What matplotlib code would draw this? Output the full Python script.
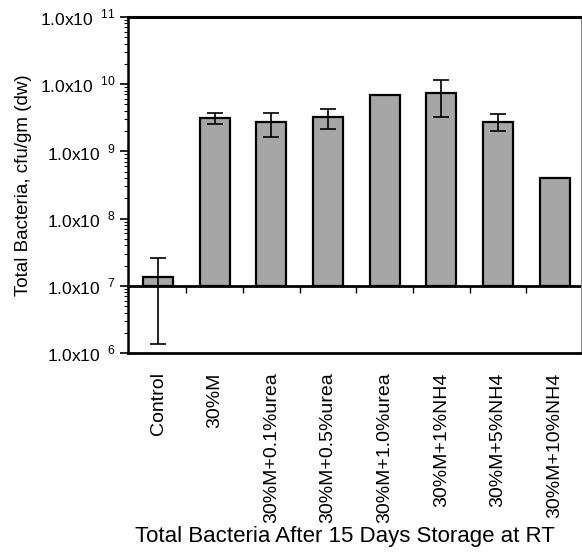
import matplotlib
matplotlib.use('Agg')
import matplotlib.pyplot as plt
import numpy as np
from matplotlib.ticker import LogLocator, FixedLocator, NullFormatter

plt.rcParams['font.family'] = ['Liberation Sans', 'DejaVu Sans']
plt.rcParams['mathtext.fontset'] = 'custom'
plt.rcParams['mathtext.rm'] = 'Liberation Sans'

# total bacteria after 15 days, cfu/gm (dw)
treatments = ['Control', '30%M', '30%M+0.1%urea', '30%M+0.5%urea',
              '30%M+1.0%urea', '30%M+1%NH4', '30%M+5%NH4', '30%M+10%NH4']
counts = [1.34e7, 3.08e9, 2.72e9, 3.26e9, 6.8e9, 7.45e9, 2.75e9, 3.96e8]
err_low = [1.37e6, 2.51e9, 1.65e9, 2.12e9, np.nan, 3.22e9, 2.0e9, np.nan]
err_high = [2.6e7, 3.73e9, 3.73e9, 4.28e9, np.nan, 1.16e10, 3.53e9, np.nan]
baseline = 1.0e7
ytick_exps = [6, 7, 8, 9, 10, 11]

fig = plt.figure(figsize=(5.82, 5.52), dpi=100)
ax = fig.add_axes([0.22, 0.3605, 0.778, 0.609])

x = np.arange(len(treatments))
heights = [c - baseline for c in counts]
ax.bar(x, heights, bottom=baseline, width=0.53, color='#a6a6a6',
       edgecolor='black', linewidth=1.6, zorder=2)

counts_arr = np.array(counts)
lo = counts_arr - np.array(err_low)
hi = np.array(err_high) - counts_arr
has_err = ~np.isnan(lo)
ax.errorbar(x[has_err], counts_arr[has_err], yerr=[lo[has_err], hi[has_err]],
            fmt='none', ecolor='black', elinewidth=1.2, capsize=6,
            capthick=1.2, zorder=3)

ax.set_yscale('log')
ax.set_ylim(1e6, 1e11)
ax.set_xlim(-0.53, 7.46)

ax.yaxis.set_major_locator(FixedLocator([10.0 ** e for e in ytick_exps]))
ax.set_yticklabels([r'1.0x10$^{\ \ \mathregular{%d}}$' % e for e in ytick_exps],
                   fontsize=12.5)
ax.yaxis.set_minor_locator(LogLocator(base=10, subs=np.arange(2, 10)))
ax.yaxis.set_minor_formatter(NullFormatter())
ax.tick_params(axis='y', which='major', direction='out', length=6, width=1.2,
               pad=3)
ax.tick_params(axis='y', which='minor', direction='out', length=3, width=0.8)

ax.set_xticks(x)
ax.set_xticklabels(treatments, rotation=90, fontsize=14)
ax.tick_params(axis='x', length=0, pad=14)

# baseline axis at 1e7 with ticks between the bars
sec = ax.secondary_xaxis(0.2)
sec.set_xticks(x[:-1] + 0.5)
sec.set_xticklabels([])
sec.tick_params(direction='out', length=5, width=1.0)
sec.spines['bottom'].set_linewidth(2.0)

ax.spines['left'].set_linewidth(1.8)
ax.spines['top'].set_linewidth(2.2)
ax.spines['bottom'].set_linewidth(2.0)
ax.spines['right'].set_linewidth(0.8)
ax.spines['right'].set_color('#888888')

ax.set_ylabel('Total Bacteria, cfu/gm (dw)', fontsize=13.5, labelpad=6)
ax.set_xlabel('Total Bacteria After 15 Days Storage at RT', fontsize=16,
              labelpad=2)
ax.xaxis.label.set_x(0.479)

fig.savefig('out.png', dpi=100)
